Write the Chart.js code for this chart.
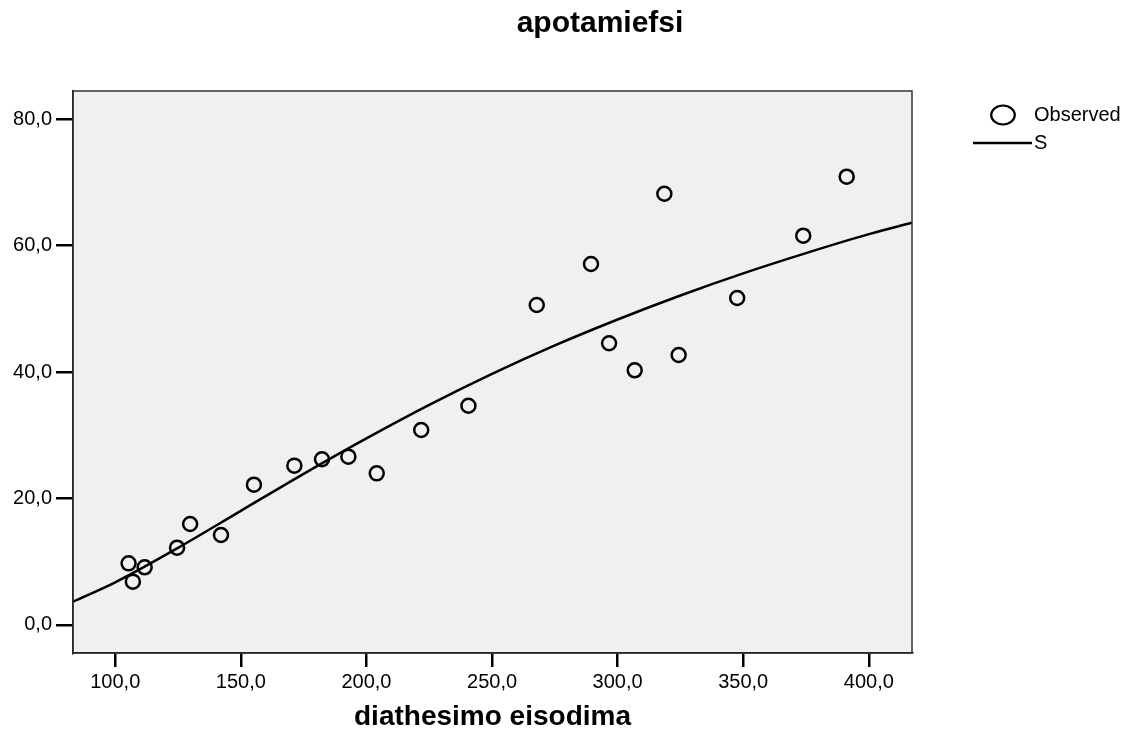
<!DOCTYPE html>
<html>
<head>
<meta charset="utf-8">
<title>apotamiefsi</title>
<script src="https://cdn.jsdelivr.net/npm/chart.js@4.4.1/dist/chart.umd.min.js"></script>
<style>
  body { margin: 0; background: #fff; }
  #wrap { width: 1135px; height: 734px; }
</style>
</head>
<body>
<div id="wrap"><canvas id="fitChart" width="1135" height="734"></canvas></div>
<script>
// observed cases (diathesimo eisodima -> apotamiefsi)
const incomeX = [105.3, 107.0, 111.7, 124.6, 129.8, 142.1, 155.2, 171.3, 182.3, 192.8, 204.1,
  221.8, 240.6, 267.8, 289.4, 296.6, 306.8, 318.6, 324.3, 347.6, 373.9, 391.2];
const savingsY = [9.75, 6.85, 9.12, 12.22, 15.97, 14.23, 22.18, 25.19, 26.2, 26.61, 23.98,
  30.83, 34.67, 50.59, 57.08, 44.54, 40.27, 68.19, 42.69, 51.7, 61.55, 70.88];

// S-curve fit
const curveX = [83.2, 100, 125, 150, 175, 200, 225, 250, 275, 300, 325, 350, 375, 400, 417.2];
const curveY = [3.7, 6.75, 12.2, 18.05, 23.9, 29.5, 34.8, 39.7, 44.2, 48.3, 52.1, 55.6, 58.8, 61.8, 63.6];

const xRange = [83.17, 417.2];
const yRange = [-4.43, 84.43];
const tickStep = { x: 50, y: 20 };

const chartTitle = "apotamiefsi";
const xTitle = "diathesimo eisodima";
const legendNames = ["Observed", "S"];

const toPoints = (xs, ys) => xs.map((x, i) => ({ x: x, y: ys[i] }));
const commaFmt = (v) => v.toFixed(1).replace(".", ",");

// grey plot background, frame, title and the legend on the right
const spssDecor = {
  id: "spssDecor",
  beforeDraw(chart) {
    const { ctx, chartArea: a } = chart;
    ctx.save();
    ctx.fillStyle = "#f0f0f0";
    ctx.fillRect(a.left, a.top, a.right - a.left, a.bottom - a.top);
    ctx.restore();
  },
  afterDraw(chart) {
    const { ctx, chartArea: a } = chart;
    ctx.save();
    ctx.strokeStyle = "#333";
    ctx.lineWidth = 1.5;
    ctx.strokeRect(a.left, a.top, a.right - a.left, a.bottom - a.top);

    ctx.fillStyle = "#000";
    ctx.font = "bold 30px 'Liberation Sans', Arial, sans-serif";
    ctx.textAlign = "center";
    ctx.textBaseline = "alphabetic";
    ctx.fillText(chartTitle, 600, 32);

    // legend
    ctx.strokeStyle = "#000";
    ctx.lineWidth = 2.2;
    ctx.beginPath();
    ctx.ellipse(1003, 115, 11.8, 9.5, 0, 0, Math.PI * 2);
    ctx.stroke();
    ctx.lineWidth = 2.4;
    ctx.beginPath();
    ctx.moveTo(973, 143);
    ctx.lineTo(1032, 143);
    ctx.stroke();
    ctx.font = "20px 'Liberation Sans', Arial, sans-serif";
    ctx.textAlign = "left";
    ctx.textBaseline = "middle";
    ctx.fillText(legendNames[0], 1034, 115);
    ctx.fillText(legendNames[1], 1034, 143);
    ctx.restore();
  },
};

const tickFont = { family: "'Liberation Sans', Arial, sans-serif", size: 20 };

new Chart(document.getElementById("fitChart"), {
  type: "scatter",
  data: {
    datasets: [
      {
        label: legendNames[1],
        data: toPoints(curveX, curveY),
        showLine: true,
        borderColor: "#000",
        borderWidth: 2.5,
        pointRadius: 0,
        cubicInterpolationMode: "monotone",
        fill: false,
      },
      {
        label: legendNames[0],
        data: toPoints(incomeX, savingsY),
        pointRadius: 7,
        pointBorderWidth: 2.5,
        pointBorderColor: "#000",
        pointBackgroundColor: "rgba(0,0,0,0)",
        borderColor: "#000",
      },
    ],
  },
  options: {
    responsive: false,
    animation: false,
    layout: { padding: { top: 91, right: 223, left: 0, bottom: 0 } },
    plugins: {
      legend: { display: false },
      title: { display: false },
      tooltip: { enabled: false },
    },
    scales: {
      x: {
        type: "linear",
        min: xRange[0],
        max: xRange[1],
        afterFit: (scale) => { scale.height = 81; },
        border: { display: true, color: "#000", width: 1.5 },
        grid: { drawOnChartArea: false, color: "#000", lineWidth: 2.5, tickLength: 14, tickWidth: 2.5, tickColor: "#000" },
        ticks: {
          stepSize: tickStep.x,
          includeBounds: false,
          color: "#000",
          font: tickFont,
          padding: 3,
          maxRotation: 0,
          callback: (v) => commaFmt(v),
        },
        title: {
          display: true,
          text: xTitle,
          color: "#000",
          font: { family: "'Liberation Sans', Arial, sans-serif", size: 28, weight: "bold" },
          padding: { top: 0, bottom: 0 },
        },
      },
      y: {
        type: "linear",
        min: yRange[0],
        max: yRange[1],
        afterFit: (scale) => { scale.width = 73; },
        border: { display: true, color: "#000", width: 1.5 },
        grid: { drawOnChartArea: false, color: "#000", lineWidth: 2.5, tickLength: 17, tickWidth: 2.5, tickColor: "#000" },
        ticks: {
          stepSize: tickStep.y,
          includeBounds: false,
          color: "#000",
          font: tickFont,
          padding: 4,
          callback: (v) => commaFmt(v),
        },
      },
    },
  },
  plugins: [spssDecor],
});
</script>
</body>
</html>
